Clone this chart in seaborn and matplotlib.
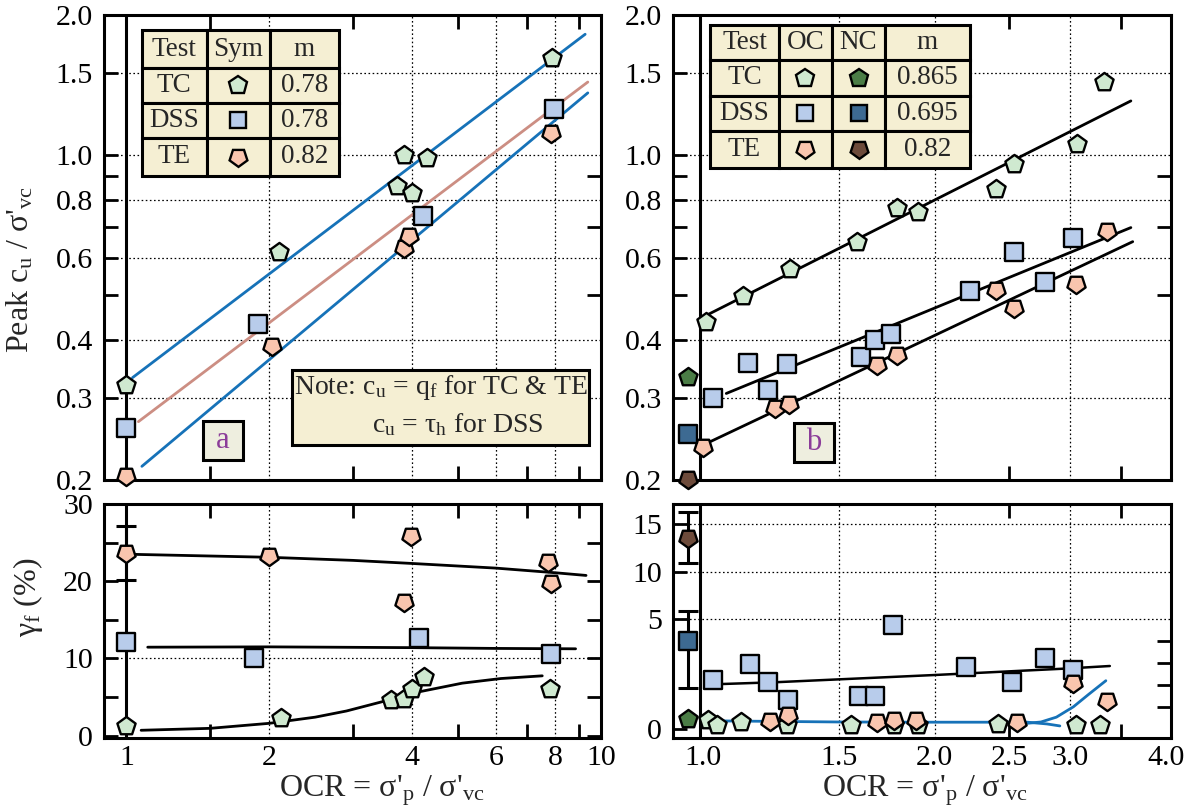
import numpy as np
import matplotlib
matplotlib.use("Agg")
import matplotlib.pyplot as plt
from matplotlib.patches import Rectangle
from matplotlib.ticker import FixedLocator, FixedFormatter, NullFormatter
import seaborn as sns

sns.set_style("ticks")
plt.rcParams["font.family"] = ["Liberation Serif", "DejaVu Serif"]
plt.rcParams["mathtext.fontset"] = "custom"
plt.rcParams["mathtext.rm"] = "Liberation Serif"
plt.rcParams["mathtext.it"] = "Liberation Serif:italic"
plt.rcParams["mathtext.default"] = "regular"

# colours
TC_OC, DSS_OC, TE_OC = "#cfe9d0", "#b8cceb", "#f9c5ae"
TC_NC, DSS_NC, TE_NC = "#4b7d46", "#3d6a92", "#6d4b3b"
FIT_BLUE, FIT_SALMON = "#1672b8", "#cc8e83"
TABLE_BG, TAG_BG, TAG_TXT = "#f5efd3", "#eeeedf", "#8b3c99"
PENT, SQ, PENT_DN = "p", "s", (5, 0, 180)

# ---- panel a : peak cu/sigma'vc, OCR 1-8
a_tc_ocr = [1.0, 2.10, 3.71, 4.0, 3.85, 4.29, 7.9]
a_tc_su = [0.32, 0.62, 0.857, 0.83, 1.00, 0.984, 1.62]
a_dss_ocr = [1.0, 1.89, 4.21, 7.95]
a_dss_su = [0.259, 0.432, 0.739, 1.258]
a_te_ocr = [1.0, 2.03, 3.84, 3.94, 7.85]
a_te_su = [0.204, 0.388, 0.632, 0.670, 1.117]
# fitted power-law lines (end points)
a_tc_fit_x, a_tc_fit_y = [1.03, 9.26], [0.332, 1.818]
a_dss_fit_x, a_dss_fit_y = [1.06, 9.38], [0.267, 1.435]
a_te_fit_x, a_te_fit_y = [1.078, 9.38], [0.214, 1.36]

# ---- panel b : peak cu/sigma'vc, OCR 1-3.5
b_tc_ocr = [1.009, 1.127, 1.296, 1.585, 1.785, 1.901, 2.40, 2.54, 3.06, 3.32]
b_tc_su = [0.437, 0.497, 0.569, 0.651, 0.770, 0.754, 0.846, 0.955, 1.057, 1.435]
b_dss_ocr = [1.03, 1.143, 1.214, 1.283, 1.603, 1.672, 1.757, 2.226, 2.54, 2.787, 3.03]
b_dss_su = [0.300, 0.357, 0.313, 0.355, 0.367, 0.400, 0.413, 0.510, 0.617, 0.532, 0.664]
b_te_ocr = [1.0, 1.240, 1.293, 1.682, 1.785, 2.40, 2.54, 3.05, 3.35]
b_te_su = [0.236, 0.285, 0.291, 0.353, 0.371, 0.512, 0.468, 0.529, 0.686]
nc_ocr = [0.955]
b_tc_nc, b_dss_nc, b_te_nc = [0.333], [0.251], [0.2006]
b_tc_fit_x, b_tc_fit_y = [1.009, 3.60], [0.452, 1.307]
b_dss_fit_x, b_dss_fit_y = [1.071, 3.60], [0.307, 0.698]
b_te_fit_x, b_te_fit_y = [1.011, 3.62], [0.240, 0.651]

# ---- panel a lower : strain at failure
c_te_ocr = [1.0, 2.0, 3.98, 3.84, 7.75, 7.85]
c_te_gf = [23.6, 23.3, 25.9, 17.3, 22.5, 19.8]
c_te_err_lo, c_te_err_hi = [20.1], [27.1]
c_dss_ocr = [1.0, 1.86, 4.13, 7.85]
c_dss_gf = [12.1, 10.0, 12.6, 10.6]
c_tc_ocr = [1.0, 2.12, 3.61, 3.85, 4.0, 4.23, 7.8]
c_tc_gf = [1.25, 2.3, 4.6, 4.8, 6.0, 7.6, 6.1]
c_te_fit_x = [1.0, 2.0, 3.0, 4.0, 6.0, 8.0, 9.3]
c_te_fit_y = [23.5, 23.1, 22.7, 22.3, 21.7, 21.1, 20.75]
c_dss_fit_x = [1.109, 2.0, 4.0, 6.0, 8.84]
c_dss_fit_y = [11.46, 11.5, 11.4, 11.3, 11.25]
c_tc_fit_x = [1.074, 1.5, 2.0, 2.5, 2.91, 3.51, 4.0, 5.1, 6.15, 7.52]
c_tc_fit_y = [0.7, 0.95, 1.6, 2.4, 3.2, 4.5, 5.5, 6.8, 7.4, 7.75]

# ---- panel b lower : strain at failure
d_dss_ocr = [1.029, 1.151, 1.214, 1.289, 1.592, 1.672, 1.765, 2.195, 2.52, 2.787, 3.03]
d_dss_gf = [2.24, 2.97, 2.14, 1.33, 1.52, 1.52, 4.74, 2.85, 2.14, 3.26, 2.70]
d_te_ocr = [1.221, 1.289, 1.682, 1.77, 1.892, 2.56, 3.03, 3.35]
d_te_gf = [0.39, 0.65, 0.32, 0.42, 0.42, 0.32, 2.09, 1.30]
d_tc_ocr = [1.014, 1.041, 1.121, 1.283, 1.558, 1.77, 1.90, 2.42, 3.05, 3.28]
d_tc_gf = [0.42, 0.20, 0.35, 0.20, 0.20, 0.20, 0.20, 0.23, 0.17, 0.17]
d_tc_nc, d_dss_nc, d_te_nc = [0.45], [4.03], [13.55]
d_dss_nc_lo, d_dss_nc_hi = [1.86], [5.9]
d_te_nc_lo, d_te_nc_hi = [10.9], [16.3]
d_dss_fit_x = [1.059, 1.24, 2.0, 2.99, 3.38]
d_dss_fit_y = [2.06, 2.14, 2.47, 2.77, 2.88]
d_tc_fit_x = [1.04, 1.5, 2.0, 2.64, 2.80, 2.91]
d_tc_fit_y = [0.38, 0.33, 0.32, 0.32, 0.24, 0.15]
d_te_fit_x = [2.64, 2.75, 2.88, 3.03, 3.17, 3.34]
d_te_fit_y = [0.27, 0.33, 0.55, 1.02, 1.58, 2.21]

fig = plt.figure(figsize=(11.91, 8.11), dpi=100)
LX, RX, W_L, W_R = 104 / 1191, 673 / 1191, 497 / 1191, 498 / 1191
TY, BY, H_T, H_B = 1 - 480 / 811, 1 - 738 / 811, 465 / 811, 234 / 811
ax_a = fig.add_axes([LX, TY, W_L, H_T])
ax_b = fig.add_axes([RX, TY, W_R, H_T])
ax_c = fig.add_axes([LX, BY, W_L, H_B])
ax_d = fig.add_axes([RX, BY, W_R, H_B])

# piecewise y scale for lower right panel (0-5 stretched)
K = 2.3


def fwd(y):
    y = np.asarray(y, dtype=float)
    return np.where(y < 5, y * K, 5 * K + (y - 5))


def inv(v):
    v = np.asarray(v, dtype=float)
    return np.where(v < 5 * K, v / K, v - 5 * K + 5)


for ax in (ax_a, ax_b, ax_c, ax_d):
    ax.set_xscale("log")
ax_a.set_yscale("log")
ax_b.set_yscale("log")
ax_d.set_yscale("function", functions=(fwd, inv))


def pts(ax, x, y, marker, face, size):
    sns.scatterplot(x=x, y=y, ax=ax, marker=marker, color=face, edgecolor="black",
                    linewidth=1.7, s=size, zorder=6, clip_on=False, legend=False)


def fit(ax, x, y, color, lw=2.0):
    sns.lineplot(x=x, y=y, ax=ax, color=color, lw=lw, estimator=None, sort=False,
                 legend=False, zorder=4)


def err(ax, x, y, lo, hi):
    yerr = [np.subtract(y, lo), np.subtract(hi, y)]
    ax.errorbar(x, y, yerr=yerr, fmt="none", ecolor="black", elinewidth=2.2,
                capsize=7, capthick=2.2, zorder=5, clip_on=False)


def grid(ax, xs, ys):
    for v in xs:
        ax.axvline(v, color="black", lw=0.9, ls=(0, (1.3, 2.0)), zorder=1)
    for v in ys:
        ax.axhline(v, color="black", lw=0.9, ls=(0, (1.3, 2.0)), zorder=1)


def frame(ax):
    for s in ax.spines.values():
        s.set_linewidth(2.2)
        s.set_color("black")
    ax.tick_params(which="both", direction="in", width=2, length=10, colors="black",
                   labelsize=21.5, top=True, right=True)
    ax.tick_params(axis="x", which="major", length=0, pad=5)
    ax.tick_params(axis="y", which="both", pad=8)
    ax.xaxis.remove_overlapping_locs = False
    ax.yaxis.remove_overlapping_locs = False


def ticks(axis, major, labels, minor):
    axis.set_major_locator(FixedLocator(major))
    axis.set_major_formatter(FixedFormatter(labels) if labels else NullFormatter())
    axis.set_minor_locator(FixedLocator(minor))
    axis.set_minor_formatter(NullFormatter())


def table(ax, xs, ys, cells):
    for r in range(len(ys) - 1):
        for c in range(len(xs) - 1):
            ax.add_patch(Rectangle((xs[c], ys[r + 1]), xs[c + 1] - xs[c], ys[r] - ys[r + 1],
                                   transform=ax.transAxes, facecolor=TABLE_BG,
                                   edgecolor="black", lw=2.2, zorder=10))
            xc, yc = (xs[c] + xs[c + 1]) / 2, (ys[r] + ys[r + 1]) / 2
            item = cells[r][c]
            if isinstance(item, str):
                ax.text(xc, yc, item, transform=ax.transAxes, ha="center", va="center",
                        fontsize=19.5, zorder=11)
            else:
                mk, face = item
                ax.plot([xc], [yc], marker=mk, ms=13.5 if mk != SQ else 12, mfc=face,
                        mec="black", mew=1.7, ls="none", transform=ax.transAxes, zorder=11)


def tag(ax, x0, y0, w, h, letter):
    ax.add_patch(Rectangle((x0, y0), w, h, transform=ax.transAxes, facecolor=TAG_BG,
                           edgecolor="black", lw=2.2, zorder=10))
    ax.text(x0 + w / 2, y0 + h / 2, letter, transform=ax.transAxes, ha="center",
            va="center", fontsize=22, color=TAG_TXT, zorder=11)


XLABEL = "OCR = σ'$_\\mathrm{p}$ / σ'$_\\mathrm{vc}$"

# ---------------- panel a
ax = ax_a
frame(ax)
ax.set_xlim(0.897, 10)
ax.set_ylim(0.2, 2.0)
grid(ax, [2, 4, 6, 8], [0.3, 0.4, 0.6, 0.8, 1.0, 1.5])
ax.axvline(1.0, color="black", lw=2.2, zorder=3)
fit(ax, a_tc_fit_x, a_tc_fit_y, FIT_BLUE)
fit(ax, a_dss_fit_x, a_dss_fit_y, FIT_SALMON)
fit(ax, a_te_fit_x, a_te_fit_y, FIT_BLUE)
pts(ax, a_tc_ocr, a_tc_su, PENT, TC_OC, 190)
pts(ax, a_dss_ocr, a_dss_su, SQ, DSS_OC, 150)
pts(ax, a_te_ocr, a_te_su, PENT_DN, TE_OC, 190)
ticks(ax.xaxis, [1, 2, 4, 6, 8, 10], None, [1.5, 3, 5, 7, 9])
ticks(ax.yaxis, [0.2, 0.3, 0.4, 0.6, 0.8, 1.0, 1.5, 2.0],
      ["0.2", "0.3", "0.4", "0.6", "0.8", "1.0", "1.5", "2.0"], [0.5, 0.7, 0.9])
ax.tick_params(axis="y", which="major", right=False)
ax.set_ylabel("Peak c$_\\mathrm{u}$ / σ'$_\\mathrm{vc}$", fontsize=23)
ax.yaxis.set_label_coords(-0.137, 0.452)
ax.set_xlabel("")
table(ax, [0.0765, 0.2066, 0.3336, 0.4728], [0.9677, 0.886, 0.8108, 0.7355, 0.6538],
      [["Test", "Sym", "m"],
       ["TC", (PENT, TC_OC), "0.78"],
       ["DSS", (SQ, DSS_OC), "0.78"],
       ["TE", (PENT_DN, TE_OC), "0.82"]])
ax.add_patch(Rectangle((0.3775, 0.0753), 0.5992, 0.1613, transform=ax.transAxes,
                       facecolor=TABLE_BG, edgecolor="black", lw=2.2, zorder=10))
ax.text(0.678, 0.198, "Note: c$_\\mathrm{u}$ = q$_\\mathrm{f}$ for TC & TE",
        transform=ax.transAxes, ha="center", va="center", fontsize=20, zorder=11)
ax.text(0.712, 0.118, "c$_\\mathrm{u}$ = τ$_\\mathrm{h}$ for DSS",
        transform=ax.transAxes, ha="center", va="center", fontsize=20, zorder=11)
tag(ax, 0.1988, 0.043, 0.0817, 0.0845, "a")

# ---------------- panel b
ax = ax_b
frame(ax)
ax.set_xlim(0.913, 4.06)
ax.set_ylim(0.2, 2.0)
grid(ax, [1.5, 2.0, 3.0], [0.3, 0.4, 0.6, 0.8, 1.0, 1.5])
ax.axvline(0.99, color="black", lw=2.2, zorder=3)
fit(ax, b_tc_fit_x, b_tc_fit_y, "black")
fit(ax, b_dss_fit_x, b_dss_fit_y, "black")
fit(ax, b_te_fit_x, b_te_fit_y, "black")
pts(ax, b_tc_ocr, b_tc_su, PENT, TC_OC, 190)
pts(ax, b_dss_ocr, b_dss_su, SQ, DSS_OC, 150)
pts(ax, b_te_ocr, b_te_su, PENT_DN, TE_OC, 190)
pts(ax, nc_ocr, b_tc_nc, PENT, TC_NC, 190)
pts(ax, nc_ocr, b_dss_nc, SQ, DSS_NC, 150)
pts(ax, nc_ocr, b_te_nc, PENT_DN, TE_NC, 190)
ticks(ax.xaxis, [1.0, 1.5, 2.0, 2.5, 3.0, 4.0], None, [2.5, 3.5])
ticks(ax.yaxis, [0.2, 0.3, 0.4, 0.6, 0.8, 1.0, 1.5, 2.0],
      ["0.2", "0.3", "0.4", "0.6", "0.8", "1.0", "1.5", "2.0"], [0.5, 0.7, 0.9])
ax.tick_params(axis="y", which="major", right=False)
ax.set_xlabel("")
ax.set_ylabel("")
table(ax, [0.0743, 0.213, 0.319, 0.426, 0.596], [0.9785, 0.903, 0.8265, 0.751, 0.671],
      [["Test", "OC", "NC", "m"],
       ["TC", (PENT, TC_OC), (PENT, TC_NC), "0.865"],
       ["DSS", (SQ, DSS_OC), (SQ, DSS_NC), "0.695"],
       ["TE", (PENT_DN, TE_OC), (PENT_DN, TE_NC), "0.82"]])
tag(ax, 0.242, 0.039, 0.081, 0.083, "b")

# ---------------- panel c (lower left)
ax = ax_c
frame(ax)
ax.set_xlim(0.897, 10)
ax.set_ylim(-0.3, 30)
grid(ax, [2, 4, 6, 8], [10])
ax.axvline(1.0, color="black", lw=2.2, zorder=3)
fit(ax, c_te_fit_x, c_te_fit_y, "black")
fit(ax, c_dss_fit_x, c_dss_fit_y, "black")
fit(ax, c_tc_fit_x, c_tc_fit_y, "black")
err(ax, [c_te_ocr[0]], [c_te_gf[0]], c_te_err_lo, c_te_err_hi)
pts(ax, c_te_ocr, c_te_gf, PENT_DN, TE_OC, 190)
pts(ax, c_dss_ocr, c_dss_gf, SQ, DSS_OC, 150)
pts(ax, c_tc_ocr, c_tc_gf, PENT, TC_OC, 190)
ticks(ax.xaxis, [1, 2, 4, 6, 8, 10], ["1", "2", "4", "6", "8", "10"], [1.5, 3, 5, 7, 9])
ticks(ax.yaxis, [0, 10, 20, 30], ["0", "10", "20", "30"], [5, 15, 25])
ax.set_ylabel("γ$_\\mathrm{f}$ (%)", fontsize=23)
ax.yaxis.set_label_coords(-0.118, 0.6)
ax.set_xlabel(XLABEL, fontsize=23)
ax.xaxis.set_label_coords(0.559, -0.15)

# ---------------- panel d (lower right)
ax = ax_d
frame(ax)
ax.set_xlim(0.913, 4.06)
ax.set_ylim(-0.4, 17.1)
grid(ax, [1.5, 2.0, 3.0], [5, 10, 15])
ax.axvline(0.99, color="black", lw=2.2, zorder=3)
fit(ax, d_dss_fit_x, d_dss_fit_y, "black", lw=1.8)
fit(ax, d_tc_fit_x, d_tc_fit_y, FIT_BLUE)
fit(ax, d_te_fit_x, d_te_fit_y, FIT_BLUE)
err(ax, nc_ocr, d_dss_nc, d_dss_nc_lo, d_dss_nc_hi)
err(ax, nc_ocr, d_te_nc, d_te_nc_lo, d_te_nc_hi)
pts(ax, d_dss_ocr, d_dss_gf, SQ, DSS_OC, 150)
pts(ax, d_tc_ocr, d_tc_gf, PENT, TC_OC, 190)
pts(ax, d_te_ocr, d_te_gf, PENT_DN, TE_OC, 190)
pts(ax, nc_ocr, d_tc_nc, PENT, TC_NC, 190)
pts(ax, nc_ocr, d_dss_nc, SQ, DSS_NC, 150)
pts(ax, nc_ocr, d_te_nc, PENT_DN, TE_NC, 190)
ticks(ax.xaxis, [1.0, 1.5, 2.0, 2.5, 3.0, 4.0], ["1.0", "1.5", "2.0", "2.5", "3.0", "4.0"],
      [2.5, 3.5])
ticks(ax.yaxis, [0, 5, 10, 15], ["0", "5", "10", "15"], [1, 2, 3, 4])
ax.tick_params(axis="y", which="major", right=False)
ax.tick_params(axis="y", which="minor", left=False)
ax.set_ylabel("")
ax.set_xlabel(XLABEL, fontsize=23)
ax.xaxis.set_label_coords(0.506, -0.15)

fig.savefig("out.png", dpi=100)
